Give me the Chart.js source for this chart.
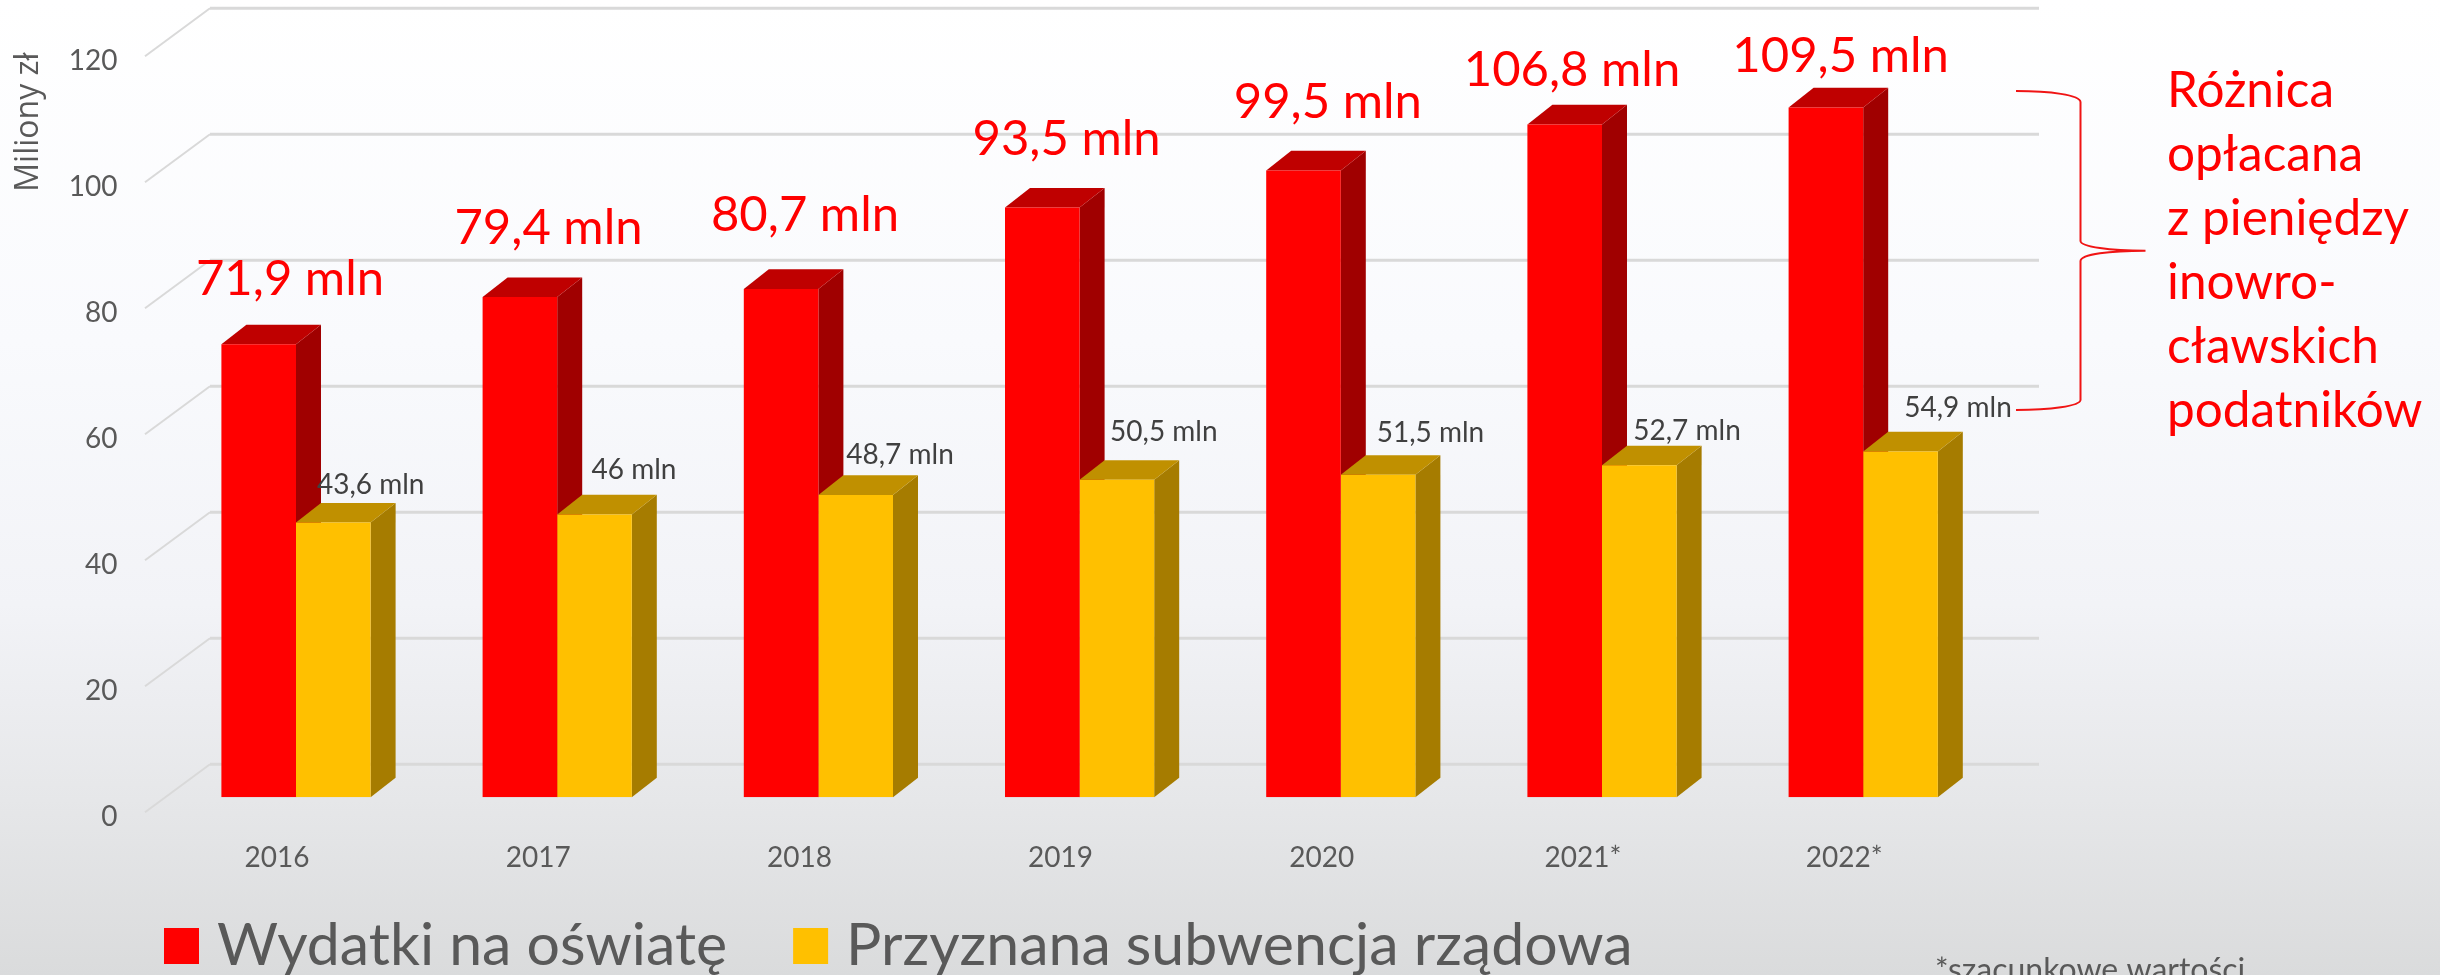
<!DOCTYPE html>
<html lang="pl">
<head>
<meta charset="utf-8">
<title>Wydatki na oświatę</title>
<script src="https://cdn.jsdelivr.net/npm/chart.js@4/dist/chart.umd.js"></script>
<style>
html,body{margin:0;padding:0;width:2440px;height:975px;overflow:hidden;
background:linear-gradient(180deg,#ffffff 0%,#f9fafd 35%,#f2f3f7 62%,#e6e7e9 82%,#dadbdc 100%);}
canvas{display:block;}
</style>
</head>
<body>
<canvas id="c" width="2440" height="975"></canvas>
<script>
const categories = ['2016','2017','2018','2019','2020','2021*','2022*'];
const seriesNames = ['Wydatki na oświatę','Przyznana subwencja rządowa'];
const educationSpending = [71.9,79.4,80.7,93.6,99.5,106.8,109.5];
const stateSubsidy = [43.6,44.9,48.0,50.4,51.2,52.7,54.9];
const spendingLabels = ['71,9 mln','79,4 mln','80,7 mln','93,5 mln','99,5 mln','106,8 mln','109,5 mln'];
const subsidyLabels = ['43,6 mln','46 mln','48,7 mln','50,5 mln','51,5 mln','52,7 mln','54,9 mln'];
const yTicksStep = 20;
const yMax = 120;
const noteLines = ['Różnica','opłacana','z pieniędzy','inowro-','cławskich','podatników'];
const axisTitle = 'Miliony zł';
const footnote = '*szacunkowe wartości';

// Layout (separate from the data)
const spendingLabelShift = [[-6,49],[-8.7,53],[-13.4,58],[-13,53],[-13,52.5],[-30,38],[-22.6,35.7]];
const subsidyLabelShift = [[37.4,28.7],[39.5,35.4],[44.3,30.7],[46.9,38.4],[52.3,32.7],[47.7,25],[57.5,34]];
const depth = {x:25,y:-19.6};
const floor = {front:145,back:210,end:2039,rise:48,drop:15};
const FONT = 'Lato';
const LEGEND_SIZE = 59;
const C = {
  red:'#ff0000',redTop:'#bf0000',redSide:'#a00000',
  gold:'#ffc000',goldTop:'#c09000',goldSide:'#a67c00',
  grid:'#d9d9d9',text:'#595959',dark:'#404040'
};

const threeD = {
  id:'threeD',
  afterLayout(chart){
    const l = chart.legend, P = chart.options.plugins.legend.labels.padding;
    l.left = 175.5-P; l.right = 2440; l.width = l.right-l.left;
    l.top = 946-LEGEND_SIZE/2-P; l.bottom = 1100; l.height = l.bottom-l.top;
  },
  beforeDatasetsDraw(chart){
    const ctx = chart.ctx, y = chart.scales.y;
    ctx.save();
    // floor + back wall gridlines
    for(let v=0;v<=yMax;v+=yTicksStep){
      const p = y.getPixelForValue(v)+floor.drop;
      ctx.strokeStyle=C.grid;ctx.lineWidth=2;ctx.beginPath();
      ctx.moveTo(floor.front,p);ctx.lineTo(floor.back,p-floor.rise);ctx.stroke();
      ctx.lineWidth=3;ctx.beginPath();
      ctx.moveTo(floor.back,p-floor.rise);ctx.lineTo(floor.end,p-floor.rise);ctx.stroke();
    }
    // bar tops and sides
    [[0,C.redTop,C.redSide],[1,C.goldTop,C.goldSide]].forEach(([ds,top,side])=>{
      chart.getDatasetMeta(ds).data.forEach(b=>{
        const l=b.x-b.width/2,r=b.x+b.width/2,t=b.y,bt=b.base;
        ctx.fillStyle=side;ctx.beginPath();
        ctx.moveTo(r,t);ctx.lineTo(r+depth.x,t+depth.y);ctx.lineTo(r+depth.x,bt+depth.y);ctx.lineTo(r,bt);ctx.closePath();ctx.fill();
        ctx.fillStyle=top;ctx.beginPath();
        ctx.moveTo(l,t);ctx.lineTo(l+depth.x,t+depth.y);ctx.lineTo(r+depth.x,t+depth.y);ctx.lineTo(r,t);ctx.closePath();ctx.fill();
      });
    });
    ctx.restore();
  },
  afterDatasetsDraw(chart){
    const ctx = chart.ctx;
    ctx.save();
    ctx.textAlign='center';ctx.textBaseline='alphabetic';
    // value labels
    const gx = i => (chart.getDatasetMeta(0).data[i].x + chart.getDatasetMeta(1).data[i].x)/2;
    ctx.font=`49px ${FONT}`;ctx.fillStyle=C.red;
    chart.getDatasetMeta(0).data.forEach((b,i)=>{
      ctx.fillText(spendingLabels[i],gx(i)+spendingLabelShift[i][0],b.y-spendingLabelShift[i][1]);
    });
    ctx.font=`28px ${FONT}`;ctx.fillStyle=C.dark;
    chart.getDatasetMeta(1).data.forEach((b,i)=>{
      ctx.fillText(subsidyLabels[i],b.x+subsidyLabelShift[i][0],b.y-subsidyLabelShift[i][1]);
    });
    // brace
    ctx.strokeStyle='#f01414';ctx.lineWidth=2;ctx.beginPath();
    ctx.moveTo(2016,91);
    ctx.bezierCurveTo(2050,91,2080,95,2080.5,102);
    ctx.lineTo(2080.5,241);
    ctx.bezierCurveTo(2081,247,2110,250.7,2145.5,250.7);
    ctx.bezierCurveTo(2110,250.7,2081,254,2080.5,261);
    ctx.lineTo(2080.5,400);
    ctx.bezierCurveTo(2080,406,2050,410,2016,410);
    ctx.stroke();
    // side note
    ctx.textAlign='left';ctx.font=`49.5px ${FONT}`;ctx.fillStyle=C.red;
    noteLines.forEach((t,i)=>ctx.fillText(t,2167,106.7+i*64));
    // footnote
    ctx.font=`32px ${FONT}`;ctx.fillStyle=C.text;
    ctx.fillText(footnote,1935,981);
    // axis title
    ctx.translate(38,122);ctx.rotate(-Math.PI/2);
    ctx.textAlign='center';ctx.font='32px "Open Sans"';ctx.fillStyle=C.text;
    ctx.fillText(axisTitle,0,0);
    ctx.restore();
  }
};

new Chart(document.getElementById('c'),{
  type:'bar',
  data:{
    labels:categories,
    datasets:[
      {label:seriesNames[0],data:educationSpending,backgroundColor:C.red,categoryPercentage:0.5712,barPercentage:1},
      {label:seriesNames[1],data:stateSubsidy,backgroundColor:C.gold,categoryPercentage:0.5712,barPercentage:1}
    ]
  },
  options:{
    responsive:false,animation:false,
    layout:{padding:{left:0,right:446.2,top:41.3,bottom:76.7}},
    scales:{
      x:{
        grid:{display:false},border:{display:false},
        afterFit(s){s.height=100;s.paddingLeft=0;s.paddingRight=0;},
        ticks:{color:C.text,font:{family:FONT,size:28},padding:36,labelOffset:-19,maxRotation:0}
      },
      y:{
        min:0,max:yMax,
        grid:{display:false},border:{display:false},
        afterFit(s){s.width=165.4;s.paddingTop=0;s.paddingBottom=0;},
        ticks:{stepSize:yTicksStep,color:C.text,font:{family:FONT,size:28},padding:40,labelOffset:20}
      }
    },
    plugins:{
      tooltip:{enabled:false},
      title:{display:false},
      legend:{
        display:true,position:'bottom',align:'start',maxHeight:1,
        labels:{
          boxWidth:12,boxHeight:13,padding:77.5,color:C.text,font:{family:FONT,size:LEGEND_SIZE},
          generateLabels(chart){
            return chart.data.datasets.map((d,i)=>({
              text:d.label,fillStyle:d.backgroundColor,strokeStyle:d.backgroundColor,
              lineWidth:23,hidden:false,datasetIndex:i,fontColor:C.text
            }));
          }
        }
      }
    }
  },
  plugins:[threeD]
});
</script>
</body>
</html>
